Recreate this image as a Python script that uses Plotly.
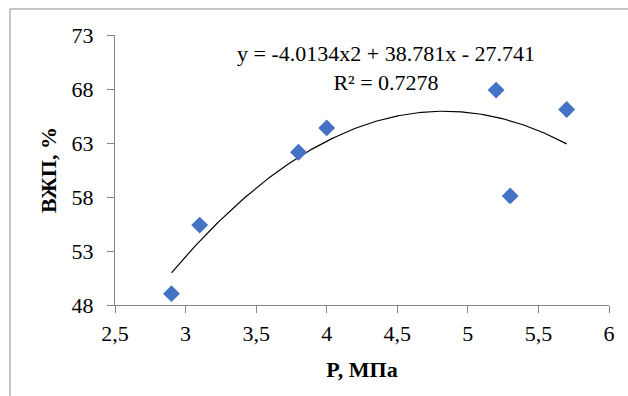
import numpy as np
import plotly.graph_objects as go

# data
p_mpa = [2.9, 3.1, 3.8, 4.0, 5.2, 5.3, 5.7]
vzhp = [49.05, 55.4, 62.15, 64.4, 67.9, 58.1, 66.1]
trend_coef = [-4.0134, 38.781, -27.741]
r2 = 0.7278
x_ticks = [2.5, 3, 3.5, 4, 4.5, 5, 5.5, 6]
x_tick_text = ["2,5", "3", "3,5", "4", "4,5", "5", "5,5", "6"]
y_ticks = [48, 53, 58, 63, 68, 73]

FONT = "Liberation Serif"
FS = 22
AX = "#868686"

xs = np.linspace(min(p_mpa), max(p_mpa), 200)
ys = np.polyval(trend_coef, xs)

fig = go.Figure()
fig.add_trace(go.Scatter(x=xs, y=ys, mode="lines",
                         line=dict(color="black", width=1.2), hoverinfo="skip"))
fig.add_trace(go.Scatter(x=p_mpa, y=vzhp, mode="markers",
                         marker=dict(symbol="diamond", size=13, color="#4472C4")))

eq = "y = %.4fx2 + %.3fx - %.3f" % (trend_coef[0], trend_coef[1], -trend_coef[2])
fig.add_annotation(x=4.42, y=69.9, xref="x", yref="y", showarrow=False,
                   text=eq + "<br>R² = %.4f" % r2, align="center",
                   font=dict(family=FONT, size=FS, color="black"))

fig.add_shape(type="rect", xref="paper", yref="paper",
              x0=-0.2126, x1=1.2, y0=-0.6, y1=1.0963,
              line=dict(color="#8c8c8c", width=1), layer="below")

fig.update_layout(
    width=628, height=396,
    margin=dict(l=115, r=19, t=35, b=91),
    paper_bgcolor="white", plot_bgcolor="white",
    showlegend=False,
    font=dict(family=FONT, size=FS, color="black"),
    xaxis=dict(range=[2.5, 6], tickvals=x_ticks, ticktext=x_tick_text,
               automargin=False, ticklabelstandoff=2,
               showline=True, linecolor=AX, linewidth=1, ticks="outside",
               tickcolor=AX, ticklen=7, showgrid=False, zeroline=False,
               tickfont=dict(family=FONT, size=FS),
               title=dict(text="<b>P, МПа</b>", standoff=16,
                          font=dict(family=FONT, size=FS))),
    yaxis=dict(range=[48, 73], tickvals=y_ticks, automargin=False,
               ticklabelstandoff=9,
               showline=True, linecolor=AX, linewidth=1, ticks="outside",
               tickcolor=AX, ticklen=7, showgrid=False, zeroline=False,
               tickfont=dict(family=FONT, size=FS),
               title=dict(text="<b>ВЖП, %</b>", standoff=8,
                          font=dict(family=FONT, size=FS))),
)

fig.write_html("out.html", config={"displayModeBar": False},
               post_script="document.body.style.margin='0';document.body.style.overflow='hidden';")
